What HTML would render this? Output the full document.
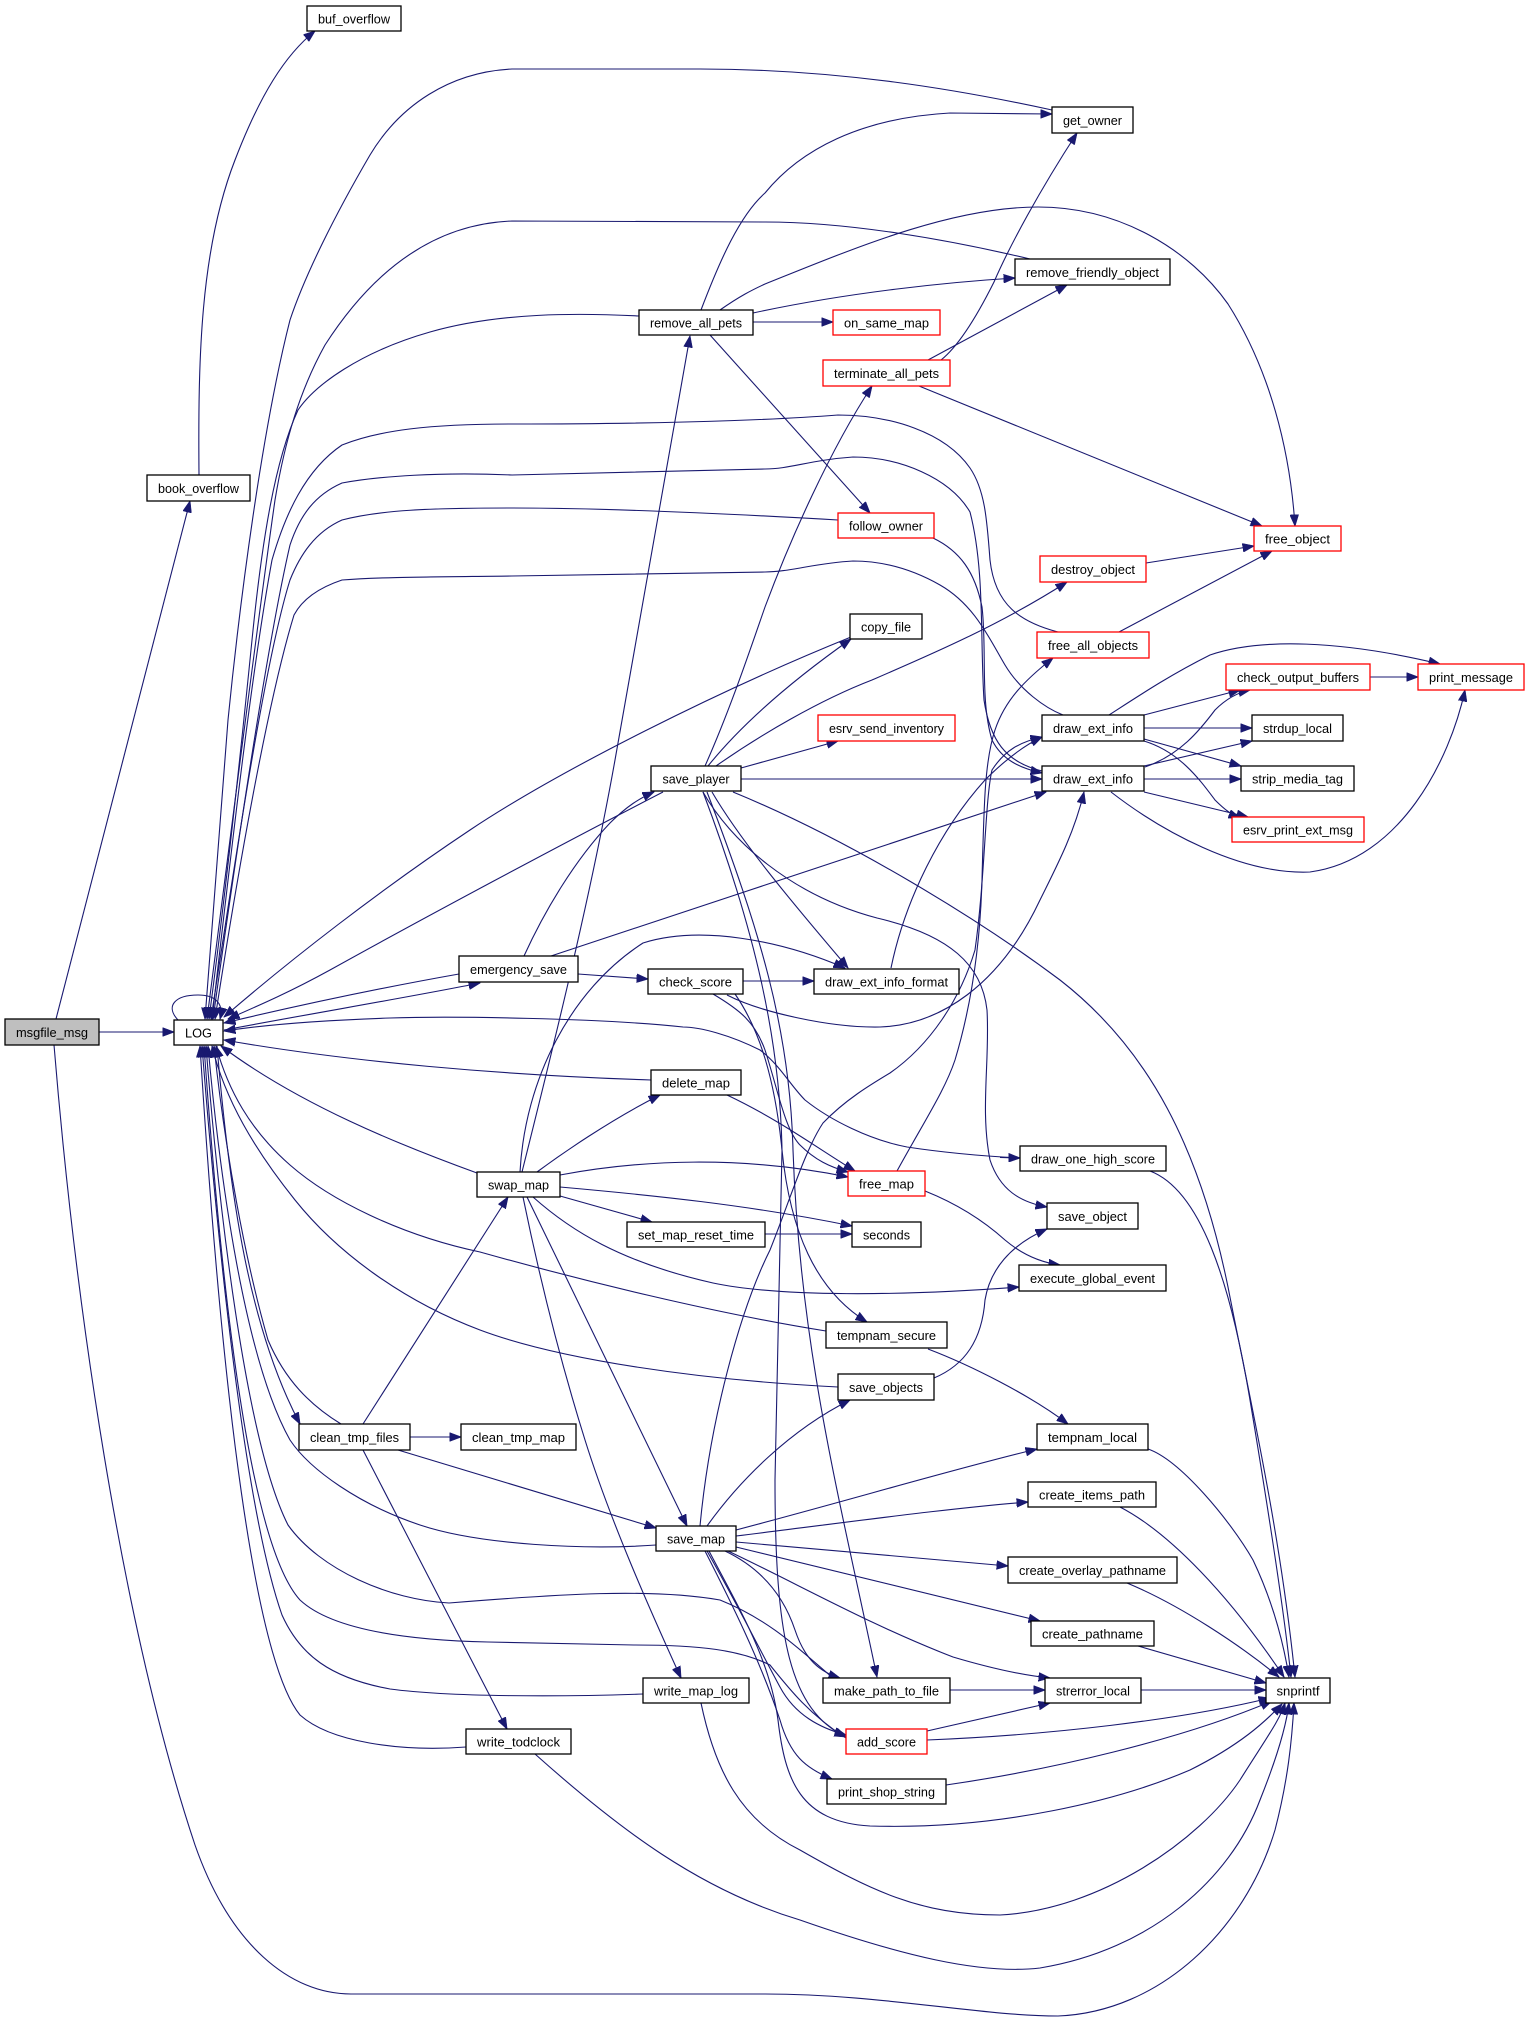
<!DOCTYPE html>
<html>
<head>
<meta charset="utf-8">
<style>
html,body{margin:0;padding:0;background:#fff;}
svg{display:block;}
.e{fill:none;stroke:#191970;stroke-width:1.1;}
.a{marker-end:url(#ah);}
.n rect{fill:#fff;stroke:#000;stroke-width:1.3;}
.n.r rect{stroke:#ff0000;}
.n.g rect{fill:#bfbfbf;}
.n text{font-family:"Liberation Sans",Helvetica,Arial,sans-serif;font-size:13px;fill:#000;text-anchor:middle;}
</style>
</head>
<body>
<svg width="1531" height="2021" viewBox="0 0 1531 2021" xmlns="http://www.w3.org/2000/svg">
<defs>
<marker id="ah" markerWidth="12" markerHeight="9" refX="11.5" refY="4.5" orient="auto" markerUnits="userSpaceOnUse">
<path d="M0,0 L12,4.5 L0,9 z" fill="#191970" stroke="#191970" stroke-width="0.5"/>
</marker>
</defs>
<rect x="0" y="0" width="1531" height="2021" fill="#fff"/>

<!-- edges -->
<g>
<path class="e a" d="M99,1032 L174,1032"/>
<path class="e a" d="M56,1019 L190,501"/>
<path class="e a" d="M54,1045 C75,1300 120,1620 195,1845 C230,1945 290,1994 351,1994 L765,1994 C880,1994 980,2016 1058,2016 C1160,2012 1245,1930 1275,1830 C1288,1780 1292,1740 1294,1703"/>
<path class="e a" d="M199,475 C198,360 200,250 235,160 C260,95 285,55 315,31"/>

<path class="e a" d="M1052,110 C960,90 840,69 700,69 L512,69 C450,72 400,105 370,155 C335,215 305,275 290,320 C262,430 240,600 228,720 C218,850 210,950 205,1019"/>
<path class="e a" d="M1030,259 C950,240 850,222 765,222 L512,221 C430,224 370,275 325,345 C300,390 285,440 275,500 C255,640 225,880 207,1019"/>
<path class="e a" d="M639,316 C580,313 500,312 430,332 C360,352 315,385 298,410 C275,460 262,540 252,640 C238,780 222,920 209,1019"/>
<path class="e a" d="M838,520 C700,512 600,508 512,508 C430,508 380,510 342,520 C315,532 300,555 290,580 C265,660 235,860 211,1019"/>
<path class="e a" d="M1058,632 C1020,622 995,605 990,560 C987,520 985,490 970,468 C945,432 890,415 838,415 C800,418 700,424 512,424 C430,424 380,430 342,445 C305,470 285,515 272,560 C250,680 228,880 212,1019"/>
<path class="e a" d="M1042,771 C1005,762 990,740 984,700 C980,640 985,570 970,512 C950,478 900,457 853,457 C810,460 790,469 765,469 L512,475 C440,472 380,476 342,483 C315,495 300,515 290,545 C268,640 238,840 213,1019"/>
<path class="e a" d="M1063,715 C1045,708 1020,690 1005,665 C990,640 975,605 940,585 C910,568 880,561 853,561 C815,563 790,572 765,572 L512,576 C430,577 380,577 342,580 C318,588 302,600 294,615 C268,700 238,870 215,1019"/>
<path class="e a" d="M851,637 C720,690 560,770 470,830 C380,890 290,960 224,1017"/>
<path class="e a" d="M663,792 C560,845 420,920 330,970 C290,992 260,1005 228,1019"/>
<path class="e a" d="M459,974 C380,988 300,1005 224,1023"/>
<path class="e a" d="M224,1030 C320,1012 410,997 480,983"/>
<path class="e a" d="M1020,1158 C980,1156 940,1152 907,1147 C870,1140 830,1120 805,1100 C790,1085 780,1065 760,1050 C730,1035 700,1027 683,1027 C600,1018 450,1016 390,1018 C330,1020 270,1024 224,1031"/>
<path class="e a" d="M1000,1157.5 L1020,1158"/>
<path class="e a" d="M651,1080 C500,1075 350,1062 224,1040"/>
<path class="e a" d="M477,1173 C400,1145 300,1105 221,1046"/>
<path class="e a" d="M826,1331 C713,1313 580,1280 480,1252 C400,1235 330,1200 290,1165 C250,1130 228,1090 216,1046"/>
<path class="e a" d="M838,1387 C700,1380 560,1360 480,1330 C400,1300 335,1250 295,1200 C255,1150 225,1100 212,1046"/>
<path class="e a" d="M656,1545 C585,1550 480,1545 420,1525 C360,1505 310,1470 290,1440 C245,1360 220,1180 208,1046"/>
<path class="e a" d="M833,1678 C800,1650 770,1620 720,1600 C650,1588 560,1594 449,1603 C390,1600 320,1570 288,1525 C245,1440 218,1200 206,1046"/>
<path class="e a" d="M846,1738 C810,1715 790,1690 770,1665 C740,1650 700,1645 634,1645 L488,1642 C400,1640 330,1628 300,1600 C250,1545 222,1300 204,1046"/>
<path class="e a" d="M643,1694 C560,1697 450,1697 390,1689 C330,1678 300,1655 282,1615 C245,1510 218,1250 202,1046"/>
<path class="e a" d="M466,1747 C400,1752 330,1742 300,1715 C255,1660 222,1400 200,1046"/>
<path class="e a" d="M341,1424 C310,1405 285,1380 268,1340 C245,1260 225,1150 214,1046"/>
<path class="e a" d="M217,1046 C230,1200 250,1330 300,1424"/>
<path class="e a" d="M178,1020 C165,1006 175,995 198,995 C216,995 224,1004 220,1019"/>

<path class="e a" d="M524,956 C545,910 575,860 610,823 C627,806 640,798 654,792"/>
<path class="e a" d="M578,974 L648,979"/>
<path class="e a" d="M551,956 L1046,792"/>
<path class="e a" d="M743,981 L814,981"/>
<path class="e a" d="M727,995 C760,1012 830,1028 880,1027 C940,1025 1000,985 1040,900 C1060,860 1075,830 1084,792"/>
<path class="e a" d="M713,994 C740,1010 755,1022 765,1050 C778,1090 785,1130 800,1145 C815,1160 830,1167 848,1172"/>
<path class="e a" d="M735,994 C760,1030 775,1080 782,1150 C790,1230 815,1290 867,1322"/>
<path class="e a" d="M703,792 C755,930 780,1040 782,1150 L775,1480 C775,1640 790,1710 846,1737"/>
<path class="e a" d="M707,792 C760,930 790,1030 793,1150 C800,1350 840,1500 877,1677"/>

<path class="e a" d="M705,766 C730,710 750,650 765,607 C790,540 830,450 872,386"/>
<path class="e a" d="M708,766 C745,720 800,675 851,639"/>
<path class="e a" d="M716,766 C760,735 820,700 872,680 C930,655 1000,625 1067,582"/>
<path class="e a" d="M741,768 L838,741"/>
<path class="e a" d="M741,779 L1042,779"/>
<path class="e a" d="M733,792 C850,840 980,920 1060,980 C1150,1050 1200,1150 1228,1287 C1250,1400 1280,1530 1295,1677"/>
<path class="e a" d="M712,792 C740,840 790,900 848,968"/>
<path class="e a" d="M703,792 C730,840 790,895 877,918 C950,935 982,965 987,1010 C990,1060 980,1110 990,1160 C1000,1190 1020,1202 1047,1207"/>

<path class="e a" d="M522,1172 C550,1060 590,900 615,760 C640,620 665,480 690,336"/>
<path class="e a" d="M537,1172 C560,1155 610,1120 660,1095"/>
<path class="e a" d="M560,1175 C640,1160 740,1155 848,1177"/>
<path class="e a" d="M560,1187 C650,1195 750,1205 852,1226"/>
<path class="e a" d="M560,1196 L652,1222"/>
<path class="e a" d="M765,1234 L852,1234"/>
<path class="e a" d="M533,1197 C570,1230 620,1262 713,1283 C780,1297 900,1296 1019,1287"/>
<path class="e a" d="M527,1197 L687,1526"/>
<path class="e a" d="M523,1197 C540,1280 560,1360 585,1440 C610,1520 650,1610 681,1678"/>
<path class="e a" d="M520,1172 C525,1080 570,990 643,943 C700,925 780,940 845,968"/>
<path class="e a" d="M727,1095 C780,1120 820,1150 855,1171"/>

<path class="e a" d="M363,1424 L508,1197"/>
<path class="e a" d="M410,1437 L461,1437"/>
<path class="e a" d="M398,1450 L656,1528"/>
<path class="e a" d="M363,1450 L507,1729"/>
<path class="e a" d="M535,1754 C620,1830 700,1890 800,1920 C900,1955 980,1975 1040,1968 C1150,1950 1230,1880 1260,1800 C1280,1750 1287,1720 1289,1703"/>
<path class="e a" d="M701,1703 C715,1770 740,1820 800,1850 C870,1890 920,1915 1000,1915 C1100,1910 1200,1840 1240,1780 C1265,1740 1280,1720 1285,1703"/>

<path class="e a" d="M707,1526 C740,1480 790,1430 850,1400"/>
<path class="e a" d="M736,1530 C850,1500 950,1470 1037,1449"/>
<path class="e a" d="M736,1536 C850,1522 950,1508 1028,1502"/>
<path class="e a" d="M736,1542 L1008,1566"/>
<path class="e a" d="M736,1547 L1040,1621"/>
<path class="e a" d="M728,1551 C800,1585 870,1625 953,1657 C990,1668 1020,1675 1050,1678"/>
<path class="e a" d="M725,1551 C765,1570 785,1600 795,1630 C805,1660 820,1672 840,1678"/>
<path class="e a" d="M707,1551 C735,1600 760,1650 780,1687 C795,1715 820,1728 846,1735"/>
<path class="e a" d="M705,1551 C730,1600 760,1660 780,1720 C790,1755 805,1768 832,1779"/>
<path class="e a" d="M709,1551 C740,1610 770,1660 778,1720 C785,1780 800,1822 870,1826 C1000,1830 1120,1800 1190,1770 C1240,1745 1265,1722 1282,1704"/>
<path class="e a" d="M700,1526 C710,1420 740,1310 770,1250 C790,1200 805,1150 823,1123 C845,1100 870,1085 890,1073 C930,1045 960,1000 975,950 C985,880 985,800 992,770 C1005,750 1020,742 1042,737"/>

<path class="e a" d="M950,1690 L1045,1690"/>
<path class="e a" d="M1141,1690 L1266,1690"/>
<path class="e a" d="M927,1731 L1050,1703"/>
<path class="e a" d="M927,1740 C1050,1735 1180,1720 1270,1698"/>
<path class="e a" d="M946,1785 C1050,1770 1180,1740 1272,1701"/>
<path class="e a" d="M1148,1449 C1180,1460 1230,1520 1253,1560 C1272,1600 1283,1640 1289,1677"/>
<path class="e a" d="M1120,1507 C1170,1533 1230,1596 1284,1677"/>
<path class="e a" d="M1127,1583 C1180,1605 1240,1645 1279,1677"/>
<path class="e a" d="M1138,1646 L1266,1683"/>
<path class="e a" d="M1150,1171 C1200,1190 1230,1280 1250,1400 C1270,1520 1285,1620 1291,1677"/>

<path class="e a" d="M925,1191 C960,1205 985,1222 1005,1240 C1025,1257 1045,1263 1060,1265"/>
<path class="e a" d="M897,1171 C925,1120 945,1090 955,1060 C970,1010 980,950 982,880 C984,800 985,760 995,730 C1005,700 1025,680 1053,658"/>
<path class="e a" d="M934,1378 C965,1365 982,1340 985,1300 C990,1270 1010,1245 1047,1229"/>
<path class="e a" d="M928,1349 C970,1365 1030,1395 1068,1424"/>
<path class="e a" d="M891,968 C905,900 940,830 985,780 C1005,760 1025,745 1042,737"/>
<path class="e a" d="M933,538 C960,551 975,572 982,607 C987,650 980,700 992,740 C1002,760 1020,768 1042,773"/>

<path class="e a" d="M1144,715 L1240,690"/>
<path class="e a" d="M1144,728 L1252,728"/>
<path class="e a" d="M1144,739 L1241,766"/>
<path class="e a" d="M1144,741 C1180,752 1200,780 1215,800 C1225,810 1232,815 1240,818"/>
<path class="e a" d="M1109,715 C1140,695 1170,675 1210,655 C1260,638 1340,640 1440,664"/>
<path class="e a" d="M1145,767 C1180,755 1200,730 1215,710 C1228,697 1240,692 1250,690"/>
<path class="e a" d="M1144,766 L1252,741"/>
<path class="e a" d="M1144,779 L1241,779"/>
<path class="e a" d="M1144,792 L1248,817"/>
<path class="e a" d="M1111,792 C1160,830 1240,875 1310,872 C1400,860 1450,760 1465,690"/>
<path class="e a" d="M1370,677 L1418,677"/>

<path class="e a" d="M701,310 C720,260 740,215 765,193 C800,150 860,118 950,113 L1052,114"/>
<path class="e a" d="M720,310 C740,296 752,290 765,284 C850,250 950,207 1038,207 C1120,207 1190,250 1228,304 C1270,370 1290,450 1295,526"/>
<path class="e a" d="M753,313 C850,292 950,282 1015,278"/>
<path class="e a" d="M753,322 L833,322"/>
<path class="e a" d="M710,335 L870,513"/>
<path class="e a" d="M941,360 C960,345 980,310 994,282 C1010,245 1040,190 1077,133"/>
<path class="e a" d="M928,360 L1067,285"/>
<path class="e a" d="M919,386 L1262,526"/>
<path class="e a" d="M1146,563 L1254,546"/>
<path class="e a" d="M1119,632 L1272,551"/>
</g>

<!-- nodes -->
<g class="n g"><rect x="5" y="1019" width="94" height="26"/><text x="52" y="1037" textLength="72" lengthAdjust="spacingAndGlyphs">msgfile_msg</text></g>
<g class="n"><rect x="174" y="1020" width="49" height="25"/><text x="198.5" y="1037.5" textLength="27" lengthAdjust="spacingAndGlyphs">LOG</text></g>
<g class="n"><rect x="147" y="475" width="103" height="26"/><text x="198.5" y="493" textLength="81" lengthAdjust="spacingAndGlyphs">book_overflow</text></g>
<g class="n"><rect x="307" y="6" width="94" height="25"/><text x="354" y="23.5" textLength="72" lengthAdjust="spacingAndGlyphs">buf_overflow</text></g>
<g class="n"><rect x="1052" y="107" width="81" height="26"/><text x="1092.5" y="125" textLength="59" lengthAdjust="spacingAndGlyphs">get_owner</text></g>
<g class="n"><rect x="1015" y="259" width="155" height="26"/><text x="1092.5" y="277" textLength="133" lengthAdjust="spacingAndGlyphs">remove_friendly_object</text></g>
<g class="n"><rect x="639" y="310" width="114" height="25"/><text x="696" y="327.5" textLength="92" lengthAdjust="spacingAndGlyphs">remove_all_pets</text></g>
<g class="n r"><rect x="833" y="310" width="107" height="25"/><text x="886.5" y="327.5" textLength="85" lengthAdjust="spacingAndGlyphs">on_same_map</text></g>
<g class="n r"><rect x="823" y="360" width="127" height="26"/><text x="886.5" y="378" textLength="105" lengthAdjust="spacingAndGlyphs">terminate_all_pets</text></g>
<g class="n r"><rect x="838" y="513" width="96" height="25"/><text x="886" y="530.5" textLength="74" lengthAdjust="spacingAndGlyphs">follow_owner</text></g>
<g class="n r"><rect x="1254" y="526" width="87" height="25"/><text x="1297.5" y="543.5" textLength="65" lengthAdjust="spacingAndGlyphs">free_object</text></g>
<g class="n r"><rect x="1040" y="556" width="106" height="26"/><text x="1093" y="574" textLength="84" lengthAdjust="spacingAndGlyphs">destroy_object</text></g>
<g class="n"><rect x="850" y="614" width="72" height="25"/><text x="886" y="631.5" textLength="50" lengthAdjust="spacingAndGlyphs">copy_file</text></g>
<g class="n r"><rect x="1037" y="632" width="112" height="26"/><text x="1093" y="650" textLength="90" lengthAdjust="spacingAndGlyphs">free_all_objects</text></g>
<g class="n r"><rect x="1226" y="664" width="144" height="26"/><text x="1298" y="682" textLength="122" lengthAdjust="spacingAndGlyphs">check_output_buffers</text></g>
<g class="n r"><rect x="1418" y="664" width="106" height="26"/><text x="1471" y="682" textLength="84" lengthAdjust="spacingAndGlyphs">print_message</text></g>
<g class="n r"><rect x="818" y="715" width="137" height="26"/><text x="886.5" y="733" textLength="115" lengthAdjust="spacingAndGlyphs">esrv_send_inventory</text></g>
<g class="n"><rect x="1042" y="715" width="102" height="26"/><text x="1093" y="733" textLength="80" lengthAdjust="spacingAndGlyphs">draw_ext_info</text></g>
<g class="n"><rect x="1252" y="715" width="91" height="26"/><text x="1297.5" y="733" textLength="69" lengthAdjust="spacingAndGlyphs">strdup_local</text></g>
<g class="n"><rect x="651" y="766" width="90" height="25"/><text x="696" y="783.5" textLength="67" lengthAdjust="spacingAndGlyphs">save_player</text></g>
<g class="n"><rect x="1042" y="766" width="102" height="25"/><text x="1093" y="783.5" textLength="80" lengthAdjust="spacingAndGlyphs">draw_ext_info</text></g>
<g class="n"><rect x="1241" y="766" width="113" height="25"/><text x="1297.5" y="783.5" textLength="91" lengthAdjust="spacingAndGlyphs">strip_media_tag</text></g>
<g class="n r"><rect x="1232" y="817" width="132" height="25"/><text x="1298" y="834.5" textLength="110" lengthAdjust="spacingAndGlyphs">esrv_print_ext_msg</text></g>
<g class="n"><rect x="459" y="956" width="119" height="26"/><text x="518.5" y="974" textLength="97" lengthAdjust="spacingAndGlyphs">emergency_save</text></g>
<g class="n"><rect x="648" y="969" width="95" height="25"/><text x="695.5" y="986.5" textLength="73" lengthAdjust="spacingAndGlyphs">check_score</text></g>
<g class="n"><rect x="814" y="969" width="145" height="25"/><text x="886.5" y="986.5" textLength="123" lengthAdjust="spacingAndGlyphs">draw_ext_info_format</text></g>
<g class="n"><rect x="651" y="1070" width="90" height="25"/><text x="696" y="1087.5" textLength="68" lengthAdjust="spacingAndGlyphs">delete_map</text></g>
<g class="n"><rect x="1020" y="1146" width="146" height="25"/><text x="1093" y="1163.5" textLength="124" lengthAdjust="spacingAndGlyphs">draw_one_high_score</text></g>
<g class="n"><rect x="477" y="1172" width="83" height="25"/><text x="518.5" y="1189.5" textLength="61" lengthAdjust="spacingAndGlyphs">swap_map</text></g>
<g class="n r"><rect x="848" y="1171" width="77" height="25"/><text x="886.5" y="1188.5" textLength="55" lengthAdjust="spacingAndGlyphs">free_map</text></g>
<g class="n"><rect x="1047" y="1203" width="91" height="26"/><text x="1092.5" y="1221" textLength="69" lengthAdjust="spacingAndGlyphs">save_object</text></g>
<g class="n"><rect x="627" y="1222" width="138" height="25"/><text x="696" y="1239.5" textLength="116" lengthAdjust="spacingAndGlyphs">set_map_reset_time</text></g>
<g class="n"><rect x="852" y="1222" width="69" height="25"/><text x="886.5" y="1239.5" textLength="47" lengthAdjust="spacingAndGlyphs">seconds</text></g>
<g class="n"><rect x="1019" y="1265" width="147" height="26"/><text x="1092.5" y="1283" textLength="125" lengthAdjust="spacingAndGlyphs">execute_global_event</text></g>
<g class="n"><rect x="826" y="1322" width="121" height="26"/><text x="886.5" y="1340" textLength="99" lengthAdjust="spacingAndGlyphs">tempnam_secure</text></g>
<g class="n"><rect x="838" y="1374" width="96" height="26"/><text x="886" y="1392" textLength="74" lengthAdjust="spacingAndGlyphs">save_objects</text></g>
<g class="n"><rect x="299" y="1424" width="111" height="26"/><text x="354.5" y="1442" textLength="89" lengthAdjust="spacingAndGlyphs">clean_tmp_files</text></g>
<g class="n"><rect x="461" y="1424" width="115" height="26"/><text x="518.5" y="1442" textLength="93" lengthAdjust="spacingAndGlyphs">clean_tmp_map</text></g>
<g class="n"><rect x="1037" y="1424" width="111" height="26"/><text x="1092.5" y="1442" textLength="89" lengthAdjust="spacingAndGlyphs">tempnam_local</text></g>
<g class="n"><rect x="1028" y="1482" width="128" height="25"/><text x="1092" y="1499.5" textLength="106" lengthAdjust="spacingAndGlyphs">create_items_path</text></g>
<g class="n"><rect x="656" y="1526" width="80" height="25"/><text x="696" y="1543.5" textLength="58" lengthAdjust="spacingAndGlyphs">save_map</text></g>
<g class="n"><rect x="1008" y="1557" width="169" height="26"/><text x="1092.5" y="1575" textLength="147" lengthAdjust="spacingAndGlyphs">create_overlay_pathname</text></g>
<g class="n"><rect x="1031" y="1621" width="123" height="25"/><text x="1092.5" y="1638.5" textLength="101" lengthAdjust="spacingAndGlyphs">create_pathname</text></g>
<g class="n"><rect x="643" y="1678" width="106" height="25"/><text x="696" y="1695.5" textLength="84" lengthAdjust="spacingAndGlyphs">write_map_log</text></g>
<g class="n"><rect x="823" y="1678" width="127" height="25"/><text x="886.5" y="1695.5" textLength="105" lengthAdjust="spacingAndGlyphs">make_path_to_file</text></g>
<g class="n"><rect x="1045" y="1678" width="96" height="25"/><text x="1093" y="1695.5" textLength="74" lengthAdjust="spacingAndGlyphs">strerror_local</text></g>
<g class="n"><rect x="1266" y="1678" width="64" height="25"/><text x="1298" y="1695.5" textLength="43" lengthAdjust="spacingAndGlyphs">snprintf</text></g>
<g class="n"><rect x="466" y="1729" width="105" height="25"/><text x="518.5" y="1746.5" textLength="83" lengthAdjust="spacingAndGlyphs">write_todclock</text></g>
<g class="n r"><rect x="846" y="1729" width="81" height="25"/><text x="886.5" y="1746.5" textLength="59" lengthAdjust="spacingAndGlyphs">add_score</text></g>
<g class="n"><rect x="827" y="1779" width="119" height="25"/><text x="886.5" y="1796.5" textLength="97" lengthAdjust="spacingAndGlyphs">print_shop_string</text></g>
</svg>
</body>
</html>
